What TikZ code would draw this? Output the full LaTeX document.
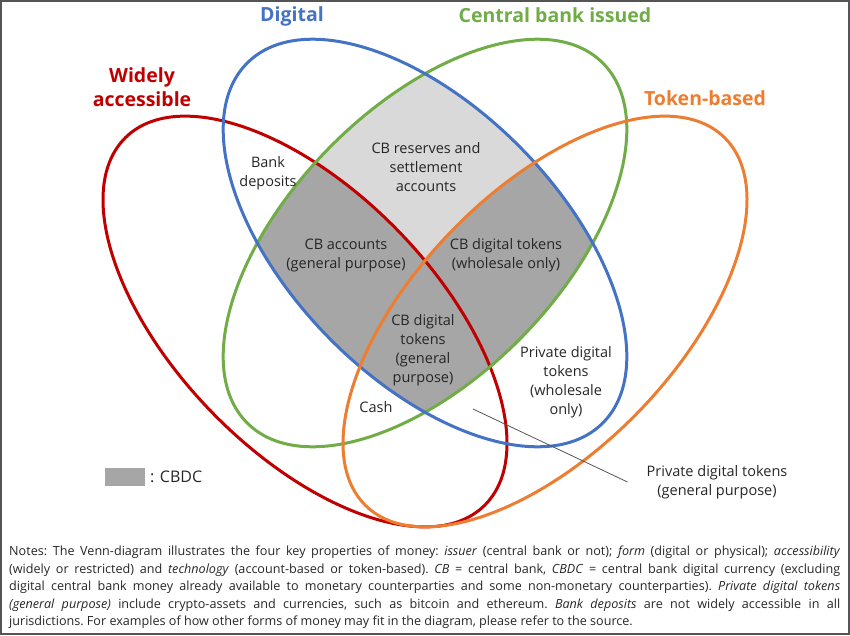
\documentclass[tikz,border=0pt]{standalone}
\usepackage{fontspec}
\setmainfont{Open Sans}
\usepackage{tikz}
\definecolor{digblue}{RGB}{68, 114, 196}
\definecolor{cbgreen}{RGB}{112, 173, 71}
\definecolor{tokorange}{RGB}{237, 125, 49}
\definecolor{widered}{RGB}{192, 0, 0}
\definecolor{lightfill}{RGB}{217, 217, 217}
\definecolor{darkfill}{RGB}{166, 166, 166}
\definecolor{inkgray}{RGB}{38, 38, 38}
\definecolor{framegray}{RGB}{85, 85, 85}

\begin{document}
\begin{tikzpicture}[
   x=1pt, y=-1pt,
   setlabel/.style={font=\fontsize{19.5}{24}\selectfont\bfseries, align=center,
                    inner sep=0},
   region/.style={font=\fontsize{14.5}{19}\selectfont, text=inkgray, align=center,
                  inner sep=0},
   ring/.style={line width=3},
   digell/.style={x radius=253pt, y radius=135pt, rotate=-45.5},
   cbell/.style={x radius=253pt, y radius=135pt, rotate=45.5},
   wideell/.style={x radius=257pt, y radius=130pt, rotate=-45.8},
   tokell/.style={x radius=257pt, y radius=130pt, rotate=45.8},
   leader/.style={draw=framegray, line width=0.8}
  ]

  % Ellipse centres
  \coordinate (wc) at (305, 321.5);
  \coordinate (dc) at (425, 243);
  \coordinate (cc) at (425, 243);
  \coordinate (tc) at (545, 321.5);

  \useasboundingbox (0, 0) rectangle (850, 635);
  \draw[framegray, line width=2] (1, 1) rectangle (849, 634);

  % Shading
  \begin{scope}
    \clip (dc) ellipse [digell];
    \clip (cc) ellipse [cbell];
    \fill[lightfill] (0, 0) rectangle (850, 520);
    \begin{scope}
      \clip (wc) ellipse [wideell];
      \fill[darkfill] (0, 0) rectangle (850, 520);
    \end{scope}
    \clip (tc) ellipse [tokell];
    \fill[darkfill] (0, 0) rectangle (850, 520);
  \end{scope}

  \foreach \C/\S/\K in {wc/wideell/widered, cc/cbell/cbgreen, dc/digell/digblue, tc/tokell/tokorange} {
    \draw[ring, \K] (\C) ellipse [\S];
  }

  \node (digital) at (292, 16) [setlabel, text=digblue] {Digital};
  \node (cbissued) at (555, 15) [setlabel, text=cbgreen] {Central bank issued};
  \node (widely) at (142, 87) [setlabel, text=widered] {Widely\\accessible};
  \node (token) at (705, 98) [setlabel, text=tokorange] {Token-based};

  \node (bankdep) at (268, 173) [region] {Bank\\deposits};
  \node (reserves) at (426, 167) [region] {CB reserves and\\settlement\\accounts};
  \node (cbacc) at (346, 255) [region] {CB accounts\\(general purpose)};
  \node (cbwhole) at (506, 255) [region] {CB digital tokens\\(wholesale only)};
  \node (cbgen) at (423, 350) [region] {CB digital\\tokens\\(general\\purpose)};
  \node (cash) at (376, 407) [region] {Cash};
  \node (ptwhole) at (566, 382) [region] {Private digital\\tokens\\(wholesale\\only)};
  \node (ptgen) at (717, 482) [region] {Private digital tokens\\(general purpose)};

  \coordinate (lead) at (473, 409);
  \draw[leader] (lead) -- ([xshift=-19]ptgen.west);

  % Legend
  \node (cbdckey) at (125, 477) [fill=darkfill, minimum width=40, minimum height=18,
                                 inner sep=0] {};
  \node (cbdctext) at (150, 477) [region, anchor=west, font=\fontsize{16}{19}\selectfont] {: CBDC};

  % Notes
  \node (notes) at (9, 546) [anchor=north west, inner sep=0, text width=831,
                             align=justify, text=inkgray,
                             font=\fontsize{12.6}{17.5}\selectfont] {\frenchspacing
    \hyphenpenalty=10000 \exhyphenpenalty=10000
    Notes: The Venn-diagram illustrates the four key properties of money: \emph{issuer}
    (central bank or not); \emph{form} (digital or physical); \emph{accessibility}\linebreak
    (widely or restricted) and \emph{technology} (account-based or token-based). \emph{CB} =
    central bank, \emph{CBDC} = central bank digital currency (excluding\linebreak
    digital central bank money already available to monetary counterparties and some
    non-monetary counterparties). \emph{Private digital tokens}\linebreak
    \emph{(general purpose)} include crypto-assets and currencies, such as bitcoin and
    ethereum. \emph{Bank deposits} are not widely accessible in all\linebreak
    jurisdictions. For examples of how other forms of money may fit in the diagram, please
    refer to the source.};

\end{tikzpicture}
\end{document}
